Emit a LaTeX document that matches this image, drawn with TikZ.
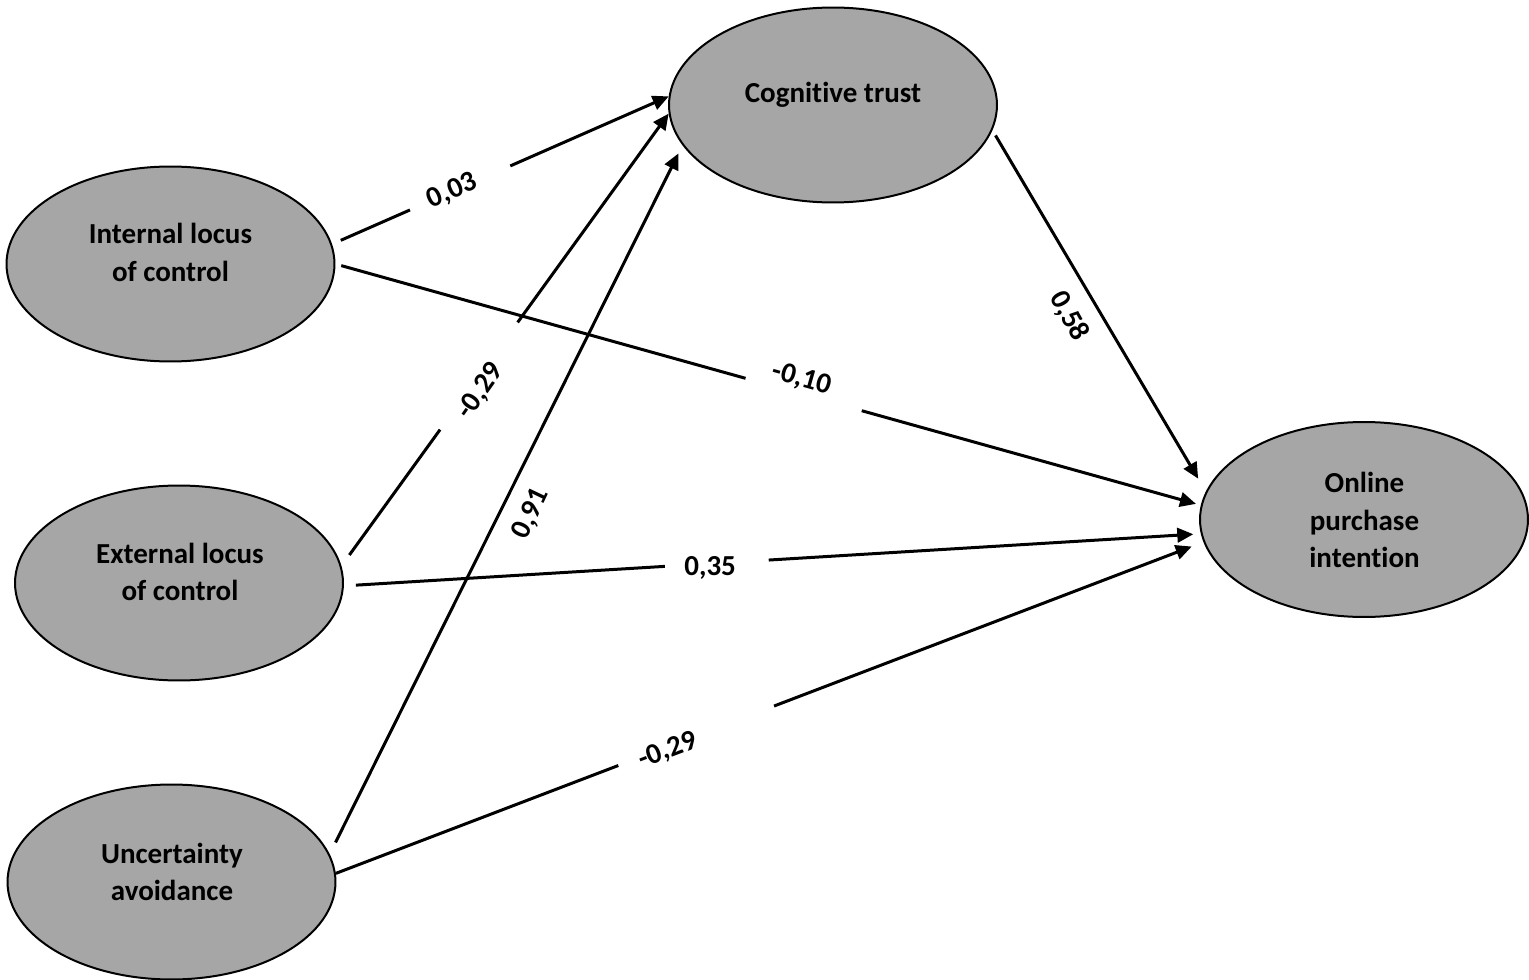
\documentclass[tikz,border=0pt]{standalone}
\usepackage{fontspec}
\setmainfont{Carlito}[Ligatures=NoCommon]
\usetikzlibrary{arrows.meta,calc,shapes.geometric}
\definecolor{ellgray}{HTML}{A6A6A6}
\begin{document}
\begin{tikzpicture}[x=0.02cm,y=-0.02cm,
  latent/.style={ellipse,draw=black,line width=0.04cm,fill=ellgray,inner sep=0pt,minimum width=6.56cm,minimum height=3.9cm},
  ntext/.style={align=center,font=\fontsize{16.5}{21.5}\selectfont\bfseries,inner sep=0pt},
  coef/.style={font=\fontsize{16.5}{20}\selectfont\bfseries,inner sep=1pt},
  seg/.style={line width=0.06cm},
  arr/.style={line width=0.06cm,-{Triangle[length=0.32cm,width=0.29cm]}}]
\useasboundingbox (0,0) rectangle (1529,980);

% latent variables
\node[latent] (int) at (170.5,264) {};
\node[latent] (ext) at (179,583) {};
\node[latent] (unc) at (171.5,882) {};
\node[latent] (cog) at (833,105) {};
\node[latent] (opi) at (1364,519.5) {};

\node[ntext] (intT) at (170.5,252.5) {Internal locus\\of control};
\node[ntext] (extT) at (180,572) {External locus\\of control};
\node[ntext] (uncT) at (172,872) {Uncertainty\\avoidance};
\node[ntext] (cogT) at (833,95) {Cognitive trust};
\node[ntext] (opiT) at (1364.5,520) {Online\\purchase\\intention};

% connector end points
\coordinate (s1) at ($(int.7)!0.19cm!(cog.177)$);
\coordinate (e1) at (cog.177);
\coordinate (s2) at ($(int.0)!0.12cm!(opi.175.5)$);
\coordinate (e2) at ($(opi.175.5)!0.1cm!(int.0)$);
\coordinate (s3) at ($(ext.6.9)!0.27cm!(cog.183.5)$);
\coordinate (e3) at (cog.183.5);
\coordinate (s4) at ($(ext.-1)!0.24cm!(opi.185.1)$);
\coordinate (e4) at ($(opi.185.1)!0.15cm!(ext.-1)$);
\coordinate (s5) at ($(unc.10.7)!0.26cm!(cog.195.1)$);
\coordinate (e5) at ($(cog.195.1)!0.18cm!(unc.10.7)$);
\coordinate (s6) at (unc.3.2);
\coordinate (e6) at ($(opi.188.3)!0.25cm!(unc.3.2)$);
\coordinate (s7) at ($(cog.-9.7)!0.12cm!(opi.170.1)$);
\coordinate (e7) at ($(opi.170.1)!0.3cm!(cog.-9.7)$);

% Internal -> Cognitive
\draw[seg] (s1) -- ($(s1)!0.211!(e1)$);
\draw[arr] ($(s1)!0.517!(e1)$) -- (e1);
\node[coef,rotate=24] (l1) at ($(s1)!0.34!(e1)$) {0,03};

% Internal -> Online
\draw[seg] (s2) -- ($(s2)!0.473!(e2)$);
\draw[arr] ($(s2)!0.609!(e2)$) -- (e2);
\node[coef,rotate=-15.8] (l2) at ($(s2)!0.539!(e2)+(0,-15)$) {-0,10};

% External -> Cognitive
\draw[seg] (s3) -- ($(s3)!0.284!(e3)$);
\draw[arr] ($(s3)!0.527!(e3)$) -- (e3);
\node[coef,rotate=54.7] (l3) at ($(s3)!0.371!(e3)+(13,0)$) {-0,29};

% External -> Online
\draw[seg] (s4) -- ($(s4)!0.369!(e4)$);
\draw[arr] ($(s4)!0.493!(e4)$) -- (e4);
\node[coef] (l4) at ($(s4)!0.423!(e4)+(0,4)$) {0,35};

% Uncertainty -> Cognitive
\draw[arr] (s5) -- (e5);
\node[coef,rotate=64.6] (l5) at ($(s5)!0.477!(e5)+(32,0)$) {0,91};

% Uncertainty -> Online
\draw[seg] (s6) -- ($(s6)!0.330!(e6)$);
\draw[arr] ($(s6)!0.512!(e6)$) -- (e6);
\node[coef,rotate=20.9] (l6) at ($(s6)!0.388!(e6)+(0,4)$) {-0,29};

% Cognitive -> Online
\draw[arr] (s7) -- (e7);
\node[coef,rotate=-61.4] (l7) at ($(s7)!0.527!(e7)+(-33,0)$) {0,58};
\end{tikzpicture}
\end{document}
